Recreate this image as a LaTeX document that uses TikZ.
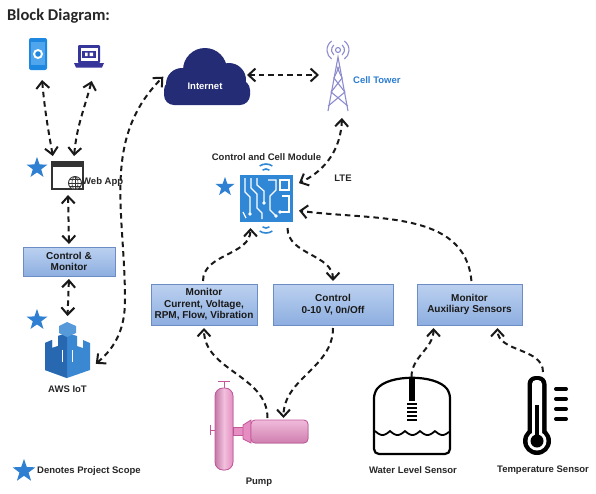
\documentclass[tikz,border=0pt]{standalone}
\usepackage{fontspec}
\setmainfont{Liberation Sans}
\newfontfamily\headfont{Carlito}
\usetikzlibrary{shapes.geometric, arrows.meta, positioning}

\definecolor{boxtop}{HTML}{BCD1F0}
\definecolor{boxbot}{HTML}{8DAEE0}
\definecolor{boxedge}{HTML}{6C8CC6}
\definecolor{starblue}{HTML}{2F7FD3}
\definecolor{cloudnavy}{HTML}{232C74}
\definecolor{phoneblue}{HTML}{1E88E0}
\definecolor{phonelight}{HTML}{4FA6EC}
\definecolor{lapnavy}{HTML}{35359A}
\definecolor{towerlilac}{HTML}{8C8CCF}
\definecolor{towertext}{HTML}{2C7DD2}
\definecolor{awsblue}{HTML}{3A88D2}
\definecolor{awsdark}{HTML}{2868B0}
\definecolor{boardblue}{HTML}{2F87D6}
\definecolor{pumppink}{HTML}{E68DC2}
\definecolor{pumpline}{HTML}{C2589A}
\definecolor{inkgrey}{HTML}{333333}

\tikzset{
  sigbox/.style={
    rectangle,
    draw=boxedge,
    line width=0.9pt,
    top color=boxtop,
    bottom color=boxbot,
    minimum height=41pt,
    align=center,
    inner sep=2pt,
    outer sep=2pt,
    font=\bfseries\fontsize{10}{11.5}\selectfont,
    text=black!90,
  },
  icon/.style={
    rectangle,
    inner sep=0pt,
    outer sep=5pt,
  },
  lbl/.style={
    inner sep=1pt,
    font=\bfseries\fontsize{9.5}{11.5}\selectfont,
    text=black!85,
  },
  scopestar/.style={
    star, star points=5, star point ratio=2.5,
    fill=starblue, inner sep=0pt, minimum size=22pt,
  },
  link/.style={
    line width=2pt,
    dash pattern=on 5.5pt off 4pt,
    draw=black!90,
    shorten <=1pt, shorten >=1pt,
    > = {Straight Barb[length=7pt, width=13pt]},
  },
  twoway/.style={link, <->},
  oneway/.style={link, ->},
}

\begin{document}
\begin{tikzpicture}[x=1pt, y=-1pt]
  \fill[white] (0,0) rectangle (596,493);
  \useasboundingbox (0,0) rectangle (596,493);

  \node (title) [anchor=west, inner sep=0pt, text=black!85,
    font=\headfont\bfseries\fontsize{16.5}{18}\selectfont] at (7,16) {Block Diagram:};

  % phone
  \node (phone) [icon, minimum width=18pt, minimum height=36pt] at (38,56) {};
  \fill[phoneblue, rounded corners=2pt] (29,38) rectangle (47,70);
  \fill[phonelight] (31,42) rectangle (45,65);
  \fill[white] (38,54) circle (5pt);
  \fill[phoneblue] (38,54) circle (2.8pt);

  % laptop
  \node (laptop) [icon, minimum width=30pt, minimum height=30pt] at (89,60) {};
  \fill[lapnavy, rounded corners=1pt] (78,45) rectangle (100,63);
  \fill[white] (80.5,47.5) rectangle (97.5,61);
  \fill[lapnavy] (82,50.5) rectangle (96,58);
  \fill[white] (85,52.5) rectangle (87.5,56) (89.5,52.5) rectangle (93,56);
  \fill[lapnavy] (74,63) -- (104,63) -- (102,67.5) -- (76,67.5) -- cycle;

  % internet cloud
  \fill[cloudnavy] (205,70) circle (22pt);
  \fill[cloudnavy] (182,84) circle (16pt);
  \fill[cloudnavy] (229,80) circle (17pt);
  \fill[cloudnavy, rounded corners=10pt] (164,80) rectangle (250,105);
  \node (internet) [icon, outer sep=0pt, minimum width=82pt, minimum height=40pt,
    text=white, font=\bfseries\fontsize{9.5}{11}\selectfont] at (205,86) {Internet};

  % cell tower
  \node (tower) [icon, minimum width=26pt, minimum height=60pt] at (338,82) {};
  \begin{scope}[towerlilac, line width=1.1pt]
    \draw (328,111) -- (338,57) -- (348,111);
    \draw (336.4,66) -- (342.1,78) -- (331.1,92) -- (347.8,106);
    \draw (339.6,66) -- (333.9,78) -- (344.9,92) -- (328.2,106);
    \draw (338,50) circle (2.5pt);
    \draw ([shift={(130:6.5pt)}]338,50) arc (130:230:6.5pt);
    \draw ([shift={(125:11pt)}]338,50) arc (125:235:11pt);
    \draw ([shift={(50:6.5pt)}]338,50) arc (50:-50:6.5pt);
    \draw ([shift={(55:11pt)}]338,50) arc (55:-55:11pt);
  \end{scope}
  \node (towerlbl) [lbl, anchor=west, text=towertext] at (352,80) {Cell Tower};

  % web app
  \node (webapp) [icon, minimum width=31pt, minimum height=27pt] at (68,175.5) {};
  \draw[inkgrey, line width=1.3pt, fill=white] (52,162) rectangle (83,189);
  \fill[inkgrey] (52,162) rectangle (83,167);
  \filldraw[fill=white, draw=inkgrey, line width=0.9pt] (75,183) circle (6.5pt);
  \draw[inkgrey, line width=0.6pt] (75,176.5) -- (75,189.5) (68.5,183) -- (81.5,183)
    (69.5,179.5) -- (80.5,179.5) (69.5,186.5) -- (80.5,186.5);
  \draw[inkgrey, line width=0.6pt] (75,183) ellipse (3pt and 6.5pt);
  \node (webapplbl) [lbl, anchor=west] at (81,182) {Web App};
  \node (webstar) [scopestar] at (37,168) {};

  \node (cm) [sigbox, minimum width=92pt, minimum height=29pt] at (69,261.5) {Control \&\\Monitor};

  % aws iot
  \node (aws) [icon, minimum width=45pt, minimum height=55pt] at (67.5,349.5) {};
  \fill[awsblue] (45,343) -- (52,340) -- (52,348) -- (58,346) -- (58,336) -- (67,333)
    -- (77,336) -- (77,346) -- (83,348) -- (83,340) -- (90,343) -- (90,370) -- (67,378)
    -- (45,370) -- cycle;
  \fill[awsdark] (45,343) -- (52,340) -- (52,348) -- (58,346) -- (58,336) -- (67,333)
    -- (67,378) -- (45,370) -- cycle;
  \fill[awsblue!85!white] (59,326) -- (67,322) -- (76,326) -- (76,333) -- (67,337) -- (59,333) -- cycle;
  \draw[white, line width=1pt] (62,350) -- (62,362) (72,350) -- (72,362);
  \node (awslbl) [lbl, below=3pt of aws] {AWS IoT};
  \node (awsstar) [scopestar] at (37,320) {};

  % control and cell module
  \node (module) [icon, minimum width=53pt, minimum height=47pt] at (266.5,198.5) {};
  \fill[boardblue] (240,175) rectangle (293,222);
  \begin{scope}[white, line width=1.2pt]
    \draw (245,178) -- (245,192) -- (250,197) -- (250,214);
    \draw (251,178) -- (251,188) -- (257,194) -- (257,208) -- (262,213) -- (262,219);
    \draw (257,178) -- (257,185) -- (264,191) -- (264,203);
    \draw (268,180) -- (276,180) -- (276,190) -- (270,196) -- (270,210) -- (276,216);
    \draw (280,180) rectangle (289,190);
    \draw (282,196) -- (289,196) -- (289,212) -- (280,212);
    \draw (243,212) -- (246,218);
    \fill (264,203) circle (1.8pt) (250,214) circle (1.8pt) (276,216) circle (1.8pt)
      (280,212) circle (1.8pt);
  \end{scope}
  \begin{scope}[boardblue, line width=1.6pt]
    \draw ([shift={(55:6pt)}]266,175) arc (55:125:6pt);
    \draw ([shift={(55:11pt)}]266,175) arc (55:125:11pt);
    \draw ([shift={(-55:6pt)}]266,222) arc (-55:-125:6pt);
    \draw ([shift={(-55:11pt)}]266,222) arc (-55:-125:11pt);
  \end{scope}
  \node (modlbl) [lbl, above=8pt of module] {Control and Cell Module};
  \node (modstar) [scopestar, minimum size=20pt] at (225,187) {};
  \node (lte) [lbl] at (343,178) {LTE};

  % interface boxes
  \node (mcur) [sigbox, minimum width=106pt] at (204,304.5) {Monitor\\Current, Voltage,\\RPM, Flow, Vibration};
  \node (ctrl) [sigbox, minimum width=120pt, right=12pt of mcur] {Control\\0-10 V, 0n/Off};
  \node (aux) [sigbox, minimum width=105pt, right=20pt of ctrl] {Monitor\\Auxiliary Sensors};

  % pump
  \node (pump) [icon, outer sep=1pt, minimum width=65pt, minimum height=23pt] at (275.5,431.5) {};
  \begin{scope}[draw=pumpline, line width=0.8pt]
    \draw (224,388) -- (224,381) (218,381) -- (230,381);
    \draw (215,430) -- (210,430) (210,425) -- (210,435);
    \filldraw[fill=pumppink] (233,427) rectangle (243,435);
    \filldraw[left color=pumppink!85!black, right color=pumppink, middle color=pumppink!55!white,
      rounded corners=8pt] (215,388) rectangle (233,470);
    \filldraw[fill=pumppink] (243,425) -- (251,420) -- (251,443) -- (243,439) -- cycle;
    \filldraw[top color=pumppink!60!white, bottom color=pumppink!90!black,
      rounded corners=4pt] (251,420) rectangle (308,443);
  \end{scope}
  \node (pumplbl) [lbl] at (259,482) {Pump};

  % water level sensor
  \node (water) [icon, outer sep=0pt, minimum width=77pt, minimum height=76pt] at (411.5,416) {};
  \draw[line width=2.2pt, rounded corners=5pt] (374,393) .. controls (388,374) and (436,374) .. (450,393)
    -- (450,454) -- (374,454) -- cycle;
  \fill (409,378) rectangle (415,401);
  \foreach \yy in {404,408,...,420}
    \draw[line width=1.8pt] (407,\yy) -- (417,\yy);
  \draw[line width=1.8pt] plot[domain=375:449, samples=90] (\x, {431+4*abs(sin((\x-375)*12))});
  \node (waterlbl) [lbl] at (413,470) {Water Level Sensor};

  % temperature sensor
  \node (thermo) [icon, minimum width=26pt, minimum height=76pt] at (537,416) {};
  \fill[black, rounded corners=8pt] (527.5,376) rectangle (546.5,440);
  \fill[black] (537,441) circle (14pt);
  \fill[white, rounded corners=4pt] (532,380) rectangle (542,440);
  \fill[white] (537,441) circle (9.5pt);
  \fill[black] (535,405) rectangle (539,441);
  \fill[black] (537,441) circle (6.5pt);
  \foreach \yy in {389,399,409,419}
    \draw[line width=4pt, line cap=round] (556,\yy) -- (566,\yy);
  \node (thermolbl) [lbl] at (543,470) {Temperature Sensor};

  % legend
  \node (legstar) [scopestar, minimum size=24pt] at (24,471) {};
  \node (legend) [lbl, anchor=west] at (36,471) {Denotes Project Scope};

  % links
  \draw [twoway] ([xshift=-15pt]webapp.north) to[out=100, in=-85] ([xshift=4pt]phone.south);
  \draw [twoway] ([xshift=6pt]webapp.north) to[out=85, in=-105] ([xshift=3pt]laptop.south);
  \draw [twoway] (webapp.south) -- (cm.north);
  \draw [twoway] (cm.south) -- (aws.north);
  \coordinate (awsbend) at (125,300);
  \draw [twoway] ([yshift=-15pt]aws.east) to[out=40, in=-90] (awsbend)
    to[out=90, in=-135] ([yshift=10pt]internet.west);
  \draw [twoway] ([yshift=11pt]internet.east) -- ([yshift=7pt]tower.west);
  \draw [twoway] ([xshift=4pt]tower.south) to[out=-92, in=25] ([yshift=15pt]module.east);
  \draw [oneway] ([xshift=2pt]aux.north) to[out=95, in=-8] ([yshift=-12pt]module.east);
  \draw [oneway] ([xshift=-1pt]mcur.north) to[out=90, in=-90] ([xshift=-16pt]module.south);
  \draw [oneway] ([xshift=21pt]module.south) to[out=-90, in=90] (ctrl.north);
  \draw [oneway] (ctrl.south) to[out=-90, in=90] ([xshift=8pt]pump.north);
  \draw [oneway] ([xshift=-8pt]pump.north) to[out=90, in=-90] (mcur.south);
  \draw [oneway] (water.north) to[out=90, in=-90] ([xshift=-36pt]aux.south);
  \draw [oneway] ([xshift=6pt]thermo.north) to[out=90, in=-90] ([xshift=28pt]aux.south);
\end{tikzpicture}
\end{document}
